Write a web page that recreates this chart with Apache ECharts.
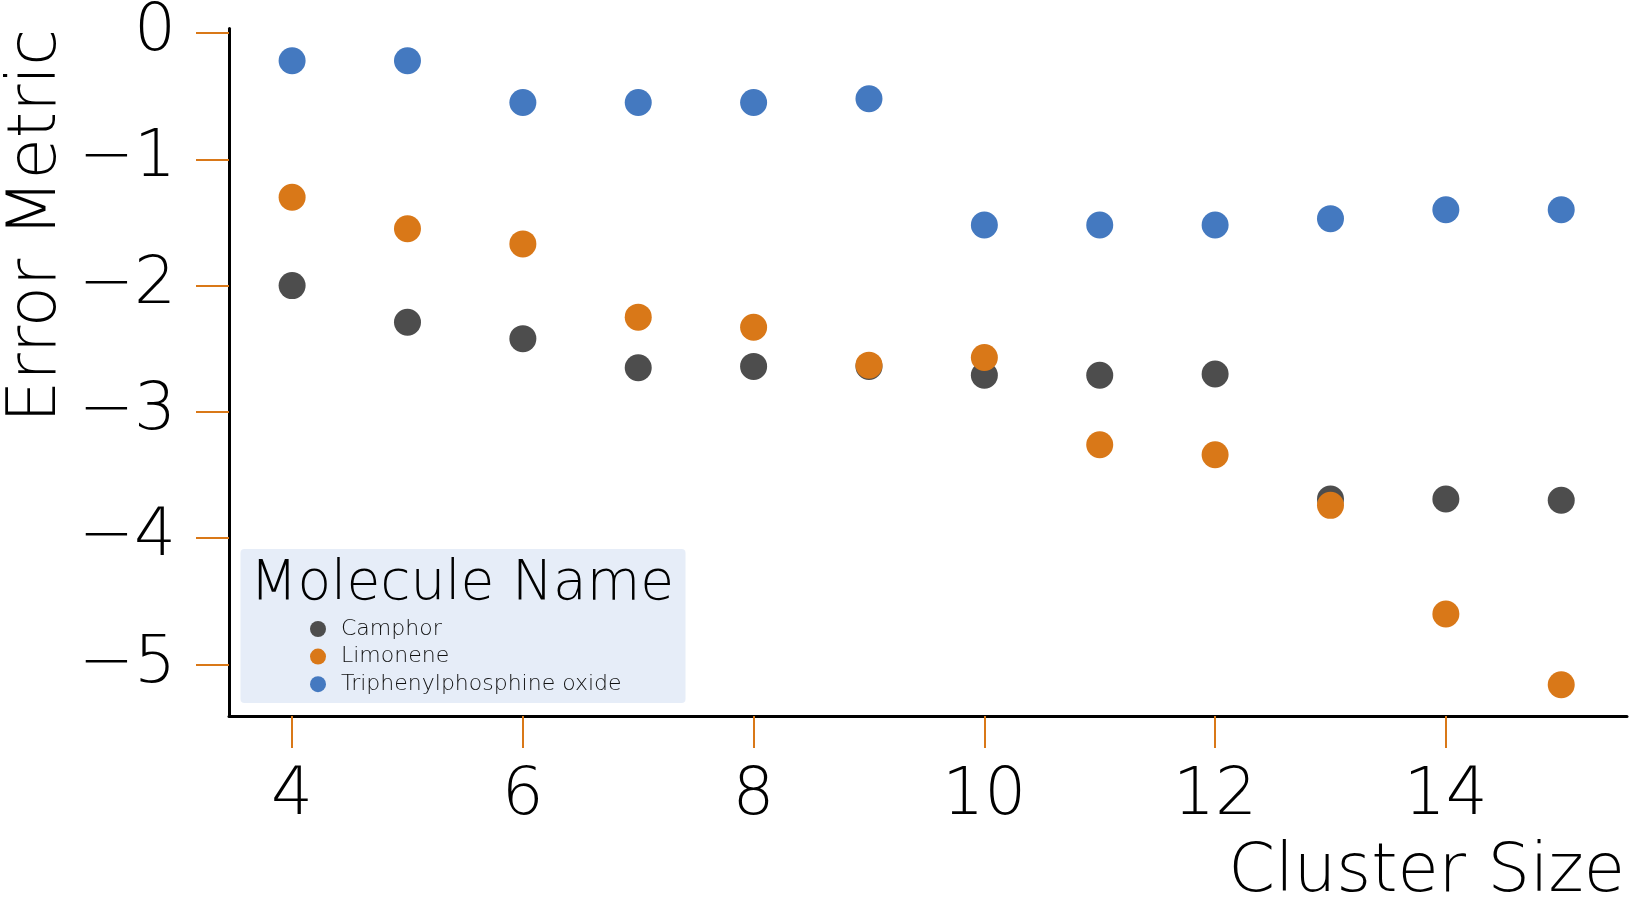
<!DOCTYPE html>
<html>
<head>
<meta charset="utf-8">
<title>Error Metric vs Cluster Size</title>
<script src="https://cdn.jsdelivr.net/npm/echarts@6/dist/echarts.min.js"></script>
<style>
  html, body { margin: 0; padding: 0; background: #fff; }
  #chart { width: 1634px; height: 899px; }
</style>
</head>
<body>
<div id="chart"></div>
<script>
// 数据
const clusterSizes = [4, 5, 6, 7, 8, 9, 10, 11, 12, 13, 14, 15];
const camphor = [-2.00, -2.29, -2.42, -2.65, -2.64, -2.64, -2.71, -2.71, -2.70, -3.69, -3.69, -3.70];
const limonene = [-1.30, -1.55, -1.67, -2.25, -2.33, -2.63, -2.57, -3.26, -3.34, -3.74, -4.60, -5.16];
const tppo = [-0.22, -0.22, -0.55, -0.55, -0.55, -0.52, -1.52, -1.52, -1.52, -1.47, -1.40, -1.40];
const seriesNames = ['Camphor', 'Limonene', 'Triphenylphosphine oxide'];
const xTicks = [4, 6, 8, 10, 12, 14];
const yTicks = [-5, -4, -3, -2, -1, 0];

// 样式
const colors = ['#4d4d4d', '#d97818', '#4479c0'];
const tickColor = '#d97818';
const font = 'DejaVu Sans';
const fontWeight = 200;

const chart = echarts.init(document.getElementById('chart'));

// 负号用 U+2212
const fmt = v => (v < 0 ? '\u2212' + Math.abs(v) : String(v));

const toPairs = ys => clusterSizes.map((x, i) => [x, ys[i]]);

const option = {
  backgroundColor: '#fff',
  animation: false,
  grid: { left: 229, right: 7, top: 26, bottom: 183 },
  xAxis: {
    type: 'value',
    min: 3.453,
    max: 15.57,
    splitLine: { show: false },
    axisLine: { onZero: false, lineStyle: { color: '#000', width: 3 } },
    axisTick: {
      customValues: xTicks,
      length: 32,
      lineStyle: { color: tickColor, width: 2 }
    },
    axisLabel: {
      customValues: xTicks,
      formatter: fmt,
      color: '#000',
      fontFamily: font,
      fontWeight: fontWeight,
      fontSize: 66,
      margin: 48
    }
  },
  yAxis: {
    type: 'value',
    min: -5.408,
    max: 0.036,
    splitLine: { show: false },
    axisLine: { show: true, onZero: false, lineStyle: { color: '#000', width: 3 } },
    axisTick: {
      show: true,
      customValues: yTicks,
      length: 33,
      lineStyle: { color: tickColor, width: 2 }
    },
    axisLabel: {
      customValues: yTicks,
      formatter: fmt,
      color: '#000',
      fontFamily: font,
      fontWeight: fontWeight,
      fontSize: 66,
      margin: 53
    }
  },
  legend: {
    orient: 'vertical',
    left: 310,
    top: 618,
    padding: 0,
    itemWidth: 16,
    itemHeight: 16,
    itemGap: 5.6,
    icon: 'circle',
    data: seriesNames,
    textStyle: {
      color: '#111',
      fontFamily: font,
      fontWeight: fontWeight,
      fontSize: 22,
      lineHeight: 22,
      padding: [0, 0, 0, 10]
    }
  },
  graphic: [
    {
      type: 'rect',
      z: 1,
      shape: { x: 240.5, y: 549, width: 445, height: 154, r: 4 },
      style: { fill: '#e6edf8' }
    },
    {
      type: 'text',
      z: 5,
      x: 250,
      y: 585,
      style: {
        text: 'Molecule Name',
        fill: '#000',
        font: fontWeight + ' 55px "' + font + '"',
        align: 'left',
        verticalAlign: 'middle'
      }
    },
    {
      // Y轴标题（靠顶部）
      type: 'text',
      x: 38,
      y: 29,
      rotation: Math.PI / 2,
      style: {
        text: 'Error Metric',
        fill: '#000',
        font: fontWeight + ' 67px "' + font + '"',
        align: 'right',
        verticalAlign: 'middle'
      }
    },
    {
      // X轴标题（靠右）
      type: 'text',
      x: 1625,
      y: 874,
      style: {
        text: 'Cluster Size',
        fill: '#000',
        font: fontWeight + ' 67px "' + font + '"',
        align: 'right',
        verticalAlign: 'middle'
      }
    }
  ],
  series: [camphor, limonene, tppo].map((ys, i) => ({
    name: seriesNames[i],
    type: 'scatter',
    symbol: 'circle',
    symbolSize: 27,
    itemStyle: { color: colors[i], opacity: 1 },
    data: toPairs(ys)
  }))
};

chart.setOption(option);
</script>
</body>
</html>
